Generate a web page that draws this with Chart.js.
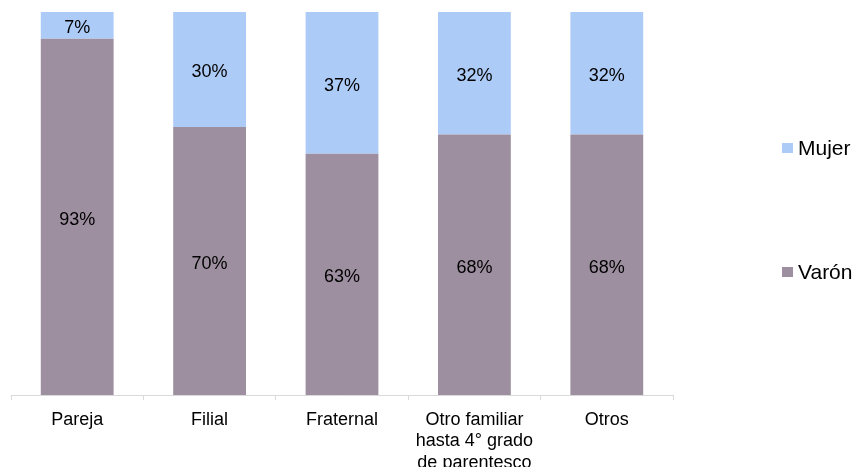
<!DOCTYPE html>
<html>
<head>
<meta charset="utf-8">
<script src="https://cdn.jsdelivr.net/npm/chart.js@4"></script>
<style>
html,body{margin:0;padding:0;background:#fff;}
#wrap{width:855px;height:467px;}
</style>
</head>
<body>
<div id="wrap"><canvas id="c" width="855" height="467"></canvas></div>
<script>
const categories = ['Pareja', 'Filial', 'Fraternal', ['Otro familiar', 'hasta 4° grado', 'de parentesco'], 'Otros'];
const varonValues = [93, 70, 63, 68, 68];
const mujerValues = [7, 30, 37, 32, 32];
const seriesNames = ['Varón', 'Mujer'];
const seriesColors = ['#9E8FA0', '#ADCBF7'];
const FONT = '"Liberation Sans", Arial, sans-serif';

const valueLabels = {
  id: 'valueLabels',
  afterDatasetsDraw(chart) {
    const ctx = chart.ctx;
    ctx.save();
    ctx.font = '18px ' + FONT;
    ctx.fillStyle = '#000';
    ctx.textAlign = 'center';
    ctx.textBaseline = 'alphabetic';
    chart.data.datasets.forEach((ds, i) => {
      const meta = chart.getDatasetMeta(i);
      meta.data.forEach((bar, j) => {
        const v = ds.data[j];
        const y = (bar.y + bar.base) / 2;
        ctx.fillText(v + '%', bar.x, y + 8);
      });
    });
    ctx.restore();
  }
};

const sideLegend = {
  id: 'sideLegend',
  afterDraw(chart) {
    const ctx = chart.ctx;
    ctx.save();
    ctx.font = '21px ' + FONT;
    ctx.textBaseline = 'alphabetic';
    ctx.textAlign = 'left';
    const items = [{name: seriesNames[1], color: seriesColors[1], y: 148},
                   {name: seriesNames[0], color: seriesColors[0], y: 272}];
    items.forEach(it => {
      ctx.fillStyle = it.color;
      ctx.fillRect(782, it.y - 5, 11, 10);
      ctx.fillStyle = '#000';
      ctx.fillText(it.name, 798, it.y + 6.5);
    });
    ctx.restore();
  }
};

new Chart(document.getElementById('c'), {
  type: 'bar',
  data: {
    labels: categories,
    datasets: [
      {label: seriesNames[0], data: varonValues, backgroundColor: seriesColors[0], categoryPercentage: 1, barPercentage: 0.55},
      {label: seriesNames[1], data: mujerValues, backgroundColor: seriesColors[1], categoryPercentage: 1, barPercentage: 0.55}
    ]
  },
  options: {
    responsive: false,
    animation: false,
    layout: {padding: {left: 11, right: 182, top: 12, bottom: 0}},
    plugins: {legend: {display: false}, tooltip: {enabled: false}},
    scales: {
      x: {
        stacked: true,
        grid: {display: true, drawOnChartArea: false, color: '#D9D9D9', tickLength: 5, offset: true},
        border: {display: true, color: '#D9D9D9', width: 1},
        ticks: {font: {family: FONT, size: 18}, color: '#000', padding: 9, maxRotation: 0, autoSkip: false},
        afterFit(scale) { scale.height = 72; }
      },
      y: {
        stacked: true, display: false, min: 0, max: 100
      }
    }
  },
  plugins: [valueLabels, sideLegend]
});
</script>
</body>
</html>
